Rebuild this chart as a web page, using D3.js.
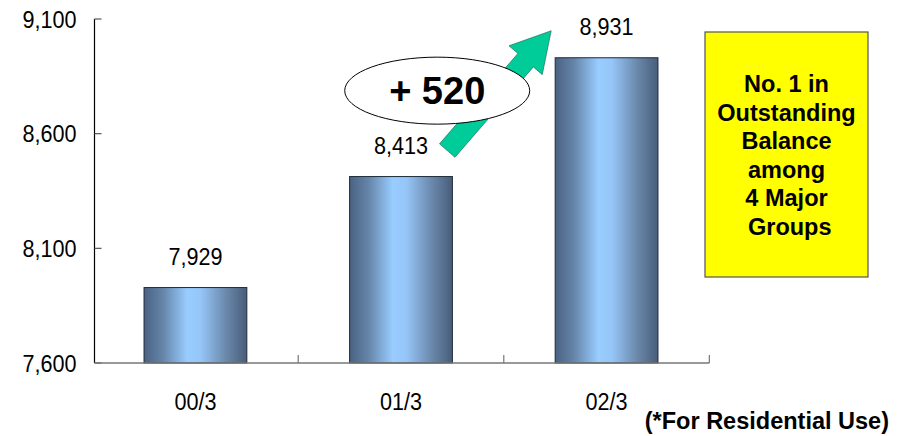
<!DOCTYPE html>
<html>
<head>
<meta charset="utf-8">
<script src="https://cdn.jsdelivr.net/npm/d3@7"></script>
<style>
  html, body { margin: 0; padding: 0; background: #fff; }
  svg { display: block; }
  text { font-family: "Liberation Sans", Arial, sans-serif; }
</style>
</head>
<body>
<svg id="chart" width="907" height="436"></svg>
<script>
// ---- data ----
const categories = ["00/3", "01/3", "02/3"];
const values = [7929, 8413, 8931];
const valueLabels = ["7,929", "8,413", "8,931"];
const yTicks = [7600, 8100, 8600, 9100];
const yTickLabels = ["7,600", "8,100", "8,600", "9,100"];
const increaseLabel = "+ 520";
const boxLines = ["No. 1 in", "Outstanding", "Balance", "among", "4 Major", " Groups"];
const footnote = "(*For Residential Use)";

const svg = d3.select("#chart");

const x = d3.scaleBand().domain(categories).range([94.5, 707.5]).paddingInner(0.5).paddingOuter(0.241);
const y = d3.scaleLinear().domain([7600, 9100]).range([363, 19]);

function regText(sel) {
  return sel.attr("font-size", 24).attr("fill", "#000");
}
const SX = 0.9;

// gradient
const defs = svg.append("defs");
const grad = defs.append("linearGradient").attr("id", "barGrad")
  .attr("x1", "0%").attr("x2", "100%").attr("y1", "0%").attr("y2", "0%");
[["0%", "#4a6282"], ["18%", "#6484a8"], ["42%", "#99ccff"], ["55%", "#96c6f8"], ["80%", "#6a88ab"], ["100%", "#485d79"]]
  .forEach(([o, c]) => grad.append("stop").attr("offset", o).attr("stop-color", c));

// bars
svg.append("g").selectAll("rect").data(categories).join("rect")
  .attr("x", d => x(d))
  .attr("y", (d, i) => y(values[i]))
  .attr("width", x.bandwidth())
  .attr("height", (d, i) => y(7600) - y(values[i]))
  .attr("fill", "url(#barGrad)")
  .attr("stroke", "#1e2a38")
  .attr("stroke-width", 1);

// y axis
const yAxis = svg.append("g").attr("transform", `translate(${x.range()[0]},0)`);
yAxis.append("line").attr("x1", 0).attr("x2", 0).attr("y1", y(9100)).attr("y2", y(7600))
  .attr("stroke", "#000").attr("stroke-width", 1.2);
yAxis.selectAll("line.tick").data(yTicks).join("line").attr("class", "tick")
  .attr("x1", 0).attr("x2", 7).attr("y1", d => y(d)).attr("y2", d => y(d))
  .attr("stroke", "#555").attr("stroke-width", 1.2);
regText(yAxis.selectAll("text").data(yTicks).join("text")
  .attr("transform", d => `translate(-18,${y(d)}) scale(${SX},1)`)
  .attr("dy", "0.36em")
  .attr("text-anchor", "end"))
  .text((d, i) => yTickLabels[i]);

// x axis
const step = x.step();
const xBounds = categories.map(c => x(c) + x.bandwidth() + step * x.paddingInner() / 2);
svg.append("line").attr("x1", x.range()[0]).attr("x2", xBounds[xBounds.length - 1]).attr("y1", y(7600)).attr("y2", y(7600))
  .attr("stroke", "#777").attr("stroke-width", 1.5);
svg.selectAll("line.xtick").data(xBounds).join("line").attr("class", "xtick")
  .attr("x1", d => d).attr("x2", d => d).attr("y1", y(7600)).attr("y2", y(7600) - 8)
  .attr("stroke", "#777").attr("stroke-width", 1.2);
regText(svg.append("g").selectAll("text").data(categories).join("text")
  .attr("transform", d => `translate(${x(d) + x.bandwidth() / 2},${y(7600) + 47}) scale(${SX},1)`)
  .attr("text-anchor", "middle"))
  .text(d => d);

// value labels
regText(svg.append("g").selectAll("text").data(categories).join("text")
  .attr("transform", (d, i) => `translate(${x(d) + x.bandwidth() / 2},${y(values[i]) - 23}) scale(${SX},1)`)
  .attr("text-anchor", "middle"))
  .text((d, i) => valueLabels[i]);

// arrow annotation from bar 2 label to bar 3 label
const tail = [x(categories[1]) + x.bandwidth() * 0.95, y(values[1]) - 26];
const tip = [x(categories[2]) - 4, y(values[2]) - 27];
const dx = tip[0] - tail[0], dy = tip[1] - tail[1];
const len = Math.hypot(dx, dy);
const ang = Math.atan2(dy, dx) * 180 / Math.PI;
const shaftW = 20.5, headW = 44, headL = 39;
const arrowPts = [
  [0, -shaftW / 2], [len - headL, -shaftW / 2], [len - headL, -headW / 2], [len, 0],
  [len - headL, headW / 2], [len - headL, shaftW / 2], [0, shaftW / 2]
];
svg.append("polygon")
  .attr("points", arrowPts.map(p => p.join(",")).join(" "))
  .attr("transform", `translate(${tail[0]},${tail[1]}) rotate(${ang})`)
  .attr("fill", "#00cc99").attr("stroke", "#1c6b55").attr("stroke-width", 0.6);

// ellipse with increase
const ex = (tail[0] + tip[0]) / 2 - 62, ey = (tail[1] + tip[1]) / 2;
svg.append("ellipse").attr("cx", ex).attr("cy", ey).attr("rx", 92.5).attr("ry", 33.5)
  .attr("fill", "#fff").attr("stroke", "#000").attr("stroke-width", 1);
svg.append("text").attr("x", ex).attr("y", ey + 13.5)
  .attr("text-anchor", "middle").attr("font-size", 38).attr("font-weight", "bold")
  .attr("fill", "#000").text(increaseLabel);

// yellow box
const box = { x: 705, y: 32, w: 163, h: 245 };
svg.append("rect").attr("x", box.x).attr("y", box.y).attr("width", box.w).attr("height", box.h)
  .attr("fill", "#ffff00").attr("stroke", "#555").attr("stroke-width", 1.2);
svg.append("g").selectAll("text").data(boxLines).join("text")
  .attr("x", box.x + box.w / 2).attr("y", (d, i) => 92 + i * 28.5)
  .attr("text-anchor", "middle").attr("font-size", 23.5).attr("font-weight", "bold")
  .attr("fill", "#000").attr("xml:space", "preserve").style("white-space", "pre")
  .text(d => d);

// footnote
svg.append("text").attr("x", 889).attr("y", 429).attr("text-anchor", "end")
  .attr("font-size", 23.5).attr("font-weight", "bold").attr("fill", "#000").text(footnote);
</script>
</body>
</html>
